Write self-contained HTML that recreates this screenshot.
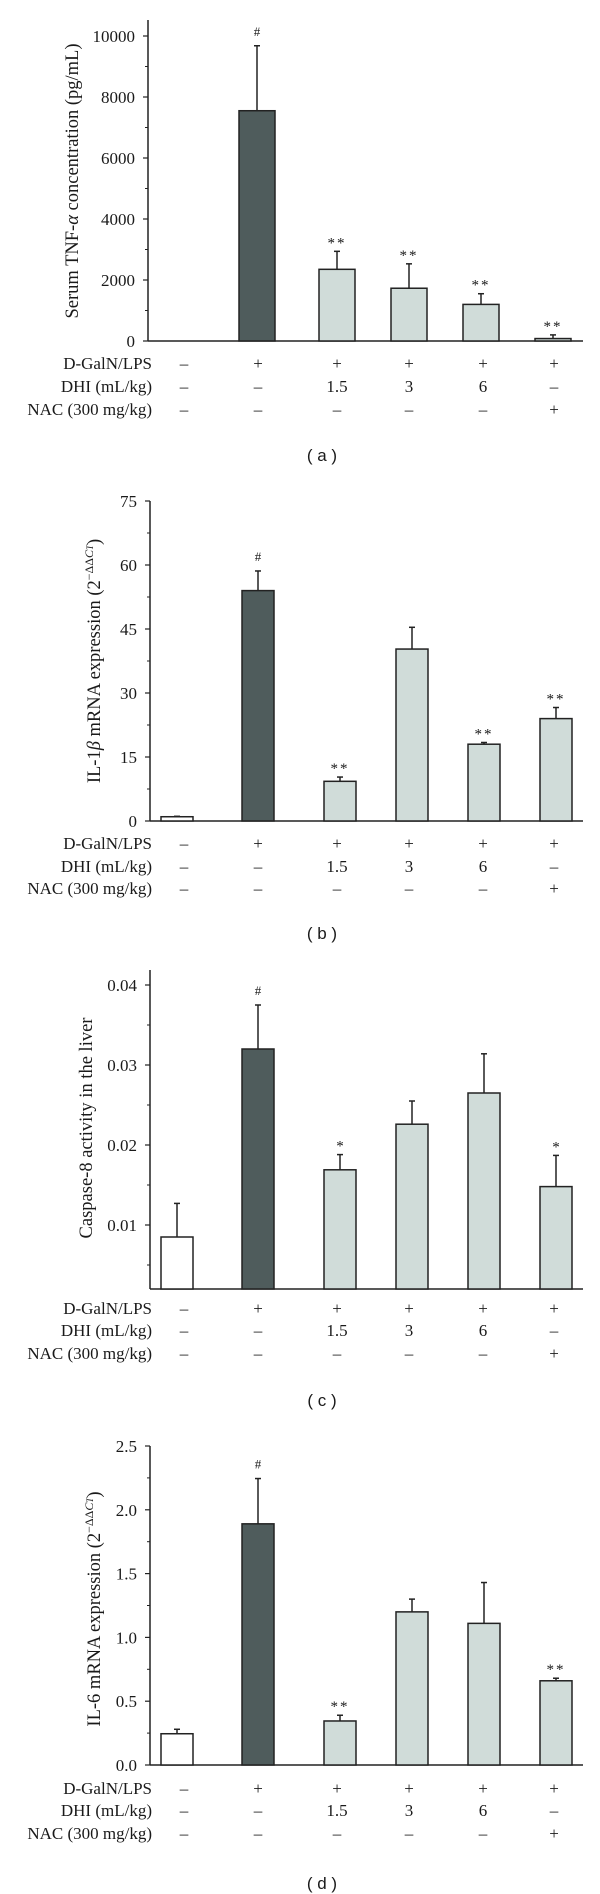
<!DOCTYPE html>
<html><head><meta charset="utf-8"><style>
body{margin:0;background:#fff}
svg{display:block}
text{font-family:"Liberation Serif",serif;fill:#1a1a1a}
.sans{font-family:"Liberation Sans",sans-serif}
</style></head><body>
<svg id="fig" width="600" height="1894" viewBox="0 0 600 1894"></svg>
<script>
const groups = ["control","galn-lps","dhi-1.5","dhi-3","dhi-6","nac"];
const rowGaln = ["–","+","+","+","+","+"];
const rowDhi = ["–","–","1.5","3","6","–"];
const rowNac = ["–","–","–","–","–","+"];
const aValues = [0, 7550, 2350, 1730, 1200, 80];
const aErrTop = [0, 9680, 2940, 2530, 1550, 200];
const aMarks = ["", "#", "**", "**", "**", "**"];
const aTicks = [0, 2000, 4000, 6000, 8000, 10000];
const bValues = [1, 54, 9.3, 40.3, 18, 24];
const bErrTop = [1.1, 58.6, 10.3, 45.4, 18.4, 26.6];
const bMarks = ["", "#", "**", "", "**", "**"];
const bTicks = [0, 15, 30, 45, 60, 75];
const cValues = [0.0085, 0.032, 0.0169, 0.0226, 0.0265, 0.0148];
const cErrTop = [0.0127, 0.0375, 0.0188, 0.0255, 0.0314, 0.0187];
const cMarks = ["", "#", "*", "", "", "*"];
const cTicks = [0.01, 0.02, 0.03, 0.04];
const cTickLabels = ["0.01","0.02","0.03","0.04"];
const dValues = [0.245, 1.89, 0.345, 1.2, 1.11, 0.66];
const dErrTop = [0.28, 2.245, 0.39, 1.3, 1.43, 0.68];
const dMarks = ["", "#", "**", "", "", "**"];
const dTicks = [0, 0.5, 1.0, 1.5, 2.0, 2.5];
const dTickLabels = ["0.0","0.5","1.0","1.5","2.0","2.5"];

const NS="http://www.w3.org/2000/svg";
const svg=document.getElementById('fig');
function mk(tag,attrs,parent,txt){const e=document.createElementNS(NS,tag);for(const k in attrs)e.setAttribute(k,attrs[k]);if(txt!==undefined)e.textContent=txt;(parent||svg).appendChild(e);return e;}
const fills=["#ffffff","#4f5c5c","#d0dcd9","#d0dcd9","#d0dcd9","#d0dcd9"];
const colX=[184,258,337,409,483,554];

function panel(p){
  const g=mk('g',{});
  
  
  const y=v=>p.y0-(v-p.vmin)*p.scale;
  const ax=mk('line',{x1:p.axX,y1:p.axTop,x2:p.axX,y2:p.y0,stroke:'#222','stroke-width':1.5},g);
  
  
  const bx=mk('line',{x1:p.axX,y1:p.y0,x2:583,y2:p.y0,stroke:'#222','stroke-width':1.5},g);
  
  
  p.ticks.forEach((t,i)=>{
    const ty=y(t);
    const tl=mk('line',{x1:p.axX-5,y1:ty,x2:p.axX,y2:ty,stroke:'#222','stroke-width':1.2},g);
    
    
    const lb=mk('text',{x:p.axX-13,y:ty+6,'text-anchor':'end','font-size':17},g,p.labels?p.labels[i]:String(t));
    
    
  });
  p.minor.forEach(t=>{
    const ty=y(t);
    const ml=mk('line',{x1:p.axX-3,y1:ty,x2:p.axX,y2:ty,stroke:'#222','stroke-width':1},g);
    
    
  });
  p.values.forEach((v,i)=>{
    const cx=p.centers[i],w=p.bw;
    if(v>p.vmin){
      const top=y(v);
      const et=y(p.err[i]);
      if(p.err[i]>v){
        const el=mk('line',{x1:cx,y1:et,x2:cx,y2:top,stroke:'#222','stroke-width':1.5},g);
        
        
        const ec=mk('line',{x1:cx-3,y1:et,x2:cx+3,y2:et,stroke:'#222','stroke-width':1.5},g);
        
        
      }
      const r=mk('rect',{x:cx-w/2,y:top,width:w,height:p.y0-top,fill:fills[i],stroke:'#222','stroke-width':1.5},g);
      
      
    }
    if(p.marks[i]){
      const mt=mk('text',{x:cx,y:y(Math.max(p.err[i],v))-(p.marks[i]=='#'?10:4),'text-anchor':'middle','font-size':p.marks[i]=='#'?13:15,'letter-spacing':p.marks[i]=='**'?2:0},g,p.marks[i]);
      
      
    }
  });
  const rows=[["D-GalN/LPS",rowGaln],["DHI (mL/kg)",rowDhi],["NAC (300 mg/kg)",rowNac]];
  rows.forEach((r,ri)=>{
    const ry=p.rows[ri]+6;
    const lt=mk('text',{x:152,y:ry,'text-anchor':'end','font-size':17},g,r[0]);
    
    
    r[1].forEach((s,i)=>{
      const ct=mk('text',{x:colX[i],y:ry,'text-anchor':'middle','font-size':17},g,s);
      
      
    });
  });
  const yt=mk('text',{x:p.titleX,y:p.titleY,'text-anchor':'middle','font-size':18.5,transform:`rotate(-90 ${p.titleX} ${p.titleY})`},g);
  yt.innerHTML=p.title;
  
  
  const cap=mk('text',{x:322,y:p.capY,'text-anchor':'middle','font-size':17,class:'sans'},g,'( '+p.id+' )');
  
  
}
const cA=[179,257,337,409,481,553], cB=[177,258,340,412,484,556];
panel({id:'a',axX:148,axTop:20,y0:341,vmin:0,scale:30.5/1000,ticks:aTicks,minor:[1000,3000,5000,7000,9000],values:aValues,err:aErrTop,marks:aMarks,centers:cA,bw:36,rows:[363,386,409],titleX:78,titleY:181,capY:461,title:'Serum TNF-<tspan font-style="italic">α</tspan> concentration (pg/mL)'});
panel({id:'b',axX:150,axTop:501,y0:821,vmin:0,scale:320/75,ticks:bTicks,minor:[7.5,22.5,37.5,52.5,67.5],values:bValues,err:bErrTop,marks:bMarks,centers:cB,bw:32,rows:[843,866,888],titleX:100,titleY:661,capY:939,title:'IL-1<tspan font-style="italic">β</tspan> mRNA expression (2<tspan dy="-7" font-size="12">−ΔΔ<tspan font-style="italic">C</tspan><tspan font-size="9" font-style="italic">T</tspan></tspan><tspan dy="7">)</tspan>'});
panel({id:'c',axX:150,axTop:970,y0:1289,vmin:0.002,scale:8000,ticks:cTicks,labels:cTickLabels,minor:[0.005,0.015,0.025,0.035],values:cValues,err:cErrTop,marks:cMarks,centers:cB,bw:32,rows:[1308,1330,1353],titleX:92,titleY:1128,capY:1406,title:'Caspase-8 activity in the liver'});
panel({id:'d',axX:150,axTop:1446,y0:1765,vmin:0,scale:127.6,ticks:dTicks,labels:dTickLabels,minor:[0.25,0.75,1.25,1.75,2.25],values:dValues,err:dErrTop,marks:dMarks,centers:cB,bw:32,rows:[1788,1810,1833],titleX:100,titleY:1609,capY:1889,title:'IL-6 mRNA expression (2<tspan dy="-7" font-size="12">−ΔΔ<tspan font-style="italic">C</tspan><tspan font-size="9" font-style="italic">T</tspan></tspan><tspan dy="7">)</tspan>'});
</script>
</body></html>
